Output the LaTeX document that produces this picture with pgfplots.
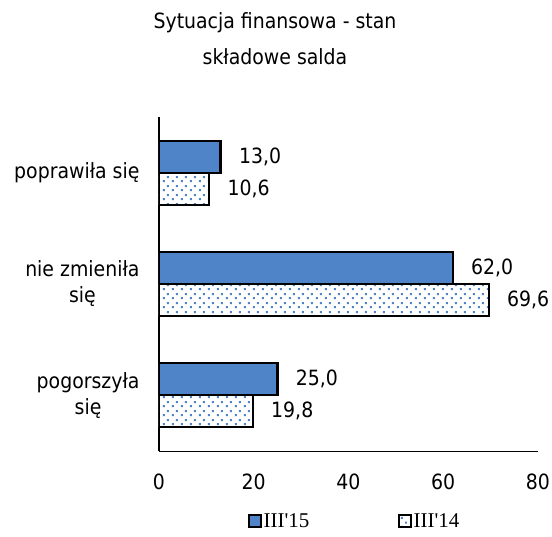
\documentclass[border=0pt]{standalone}
\usepackage{pgfplots}
\pgfplotsset{compat=1.18}
\usepackage{fontspec}
\setmainfont{DejaVu Sans Condensed}
\newfontfamily\legfont{Liberation Serif}
\usetikzlibrary{patterns}
\definecolor{barblue}{RGB}{80,132,200}
\pgfdeclarepatternformonly{mydots}{\pgfpointorigin}{\pgfpoint{8.5bp}{8.5bp}}{\pgfpoint{8.5bp}{8.5bp}}{%
 \pgfpathrectangle{\pgfpoint{1bp}{1bp}}{\pgfpoint{2bp}{2bp}}%
 \pgfpathrectangle{\pgfpoint{5.25bp}{5.25bp}}{\pgfpoint{2bp}{2bp}}%
 \pgfusepath{fill}}
\newcommand{\lblfont}{\fontsize{21bp}{26bp}\selectfont}
\begin{document}
\begin{tikzpicture}
\useasboundingbox (-159bp,-86bp) rectangle (393bp,451bp);
\begin{axis}[
 at={(0,0)}, anchor=south west,
 scale only axis, width=379bp, height=334bp,
 xbar, bar width=32bp,
 xmin=0, xmax=80, ymin=-0.5, ymax=2.5,
 xtick={0,20,40,60,80}, ytick={0,1,2},
 yticklabels={{pogorszyła\\się},{nie zmieniła\\się},{poprawiła się}},
 /pgf/number format/assume math mode=true,
 axis x line*=bottom, axis y line*=left,
 x axis line style={-, line width=1bp},
 y axis line style={-, line width=1.6bp},
 major tick length=0pt,
 ticklabel style={font=\lblfont},
 xticklabel style={yshift=-19bp},
 yticklabel style={align=center, xshift=-16bp},
 nodes near coords={\pgfmathprintnumber[fixed,fixed zerofill,precision=1,use comma]{\pgfplotspointmeta}},
 nodes near coords style={font=\lblfont, anchor=west, xshift=14bp, text=black},
 legend style={at={(axis description cs:0.517,-0.21)}, anchor=center, draw=none,
   font=\legfont\fontsize{21bp}{24bp}\selectfont,
   /tikz/every even column/.append style={column sep=87bp}},
 legend columns=2,
 legend image code/.code={\draw[#1,line width=1.3bp] (0bp,-6bp) rectangle (12bp,6bp);},
]
\addplot[draw=black, line width=2.2bp, fill=barblue, bar shift=16bp]
  coordinates {(13.0,2) (62.0,1) (25.0,0)};
\addplot[draw=black, line width=2.2bp, preaction={fill=white}, pattern=mydots, pattern color=barblue, bar shift=-16bp]
  coordinates {(10.6,2) (69.6,1) (19.8,0)};
\legend{III'15, III'14}
\end{axis}
\node[font=\fontsize{21bp}{25bp}\selectfont] at (116bp,428bp) {Sytuacja finansowa - stan};
\node[font=\fontsize{21bp}{25bp}\selectfont] at (116bp,394bp) {składowe salda};
\end{tikzpicture}
\end{document}
